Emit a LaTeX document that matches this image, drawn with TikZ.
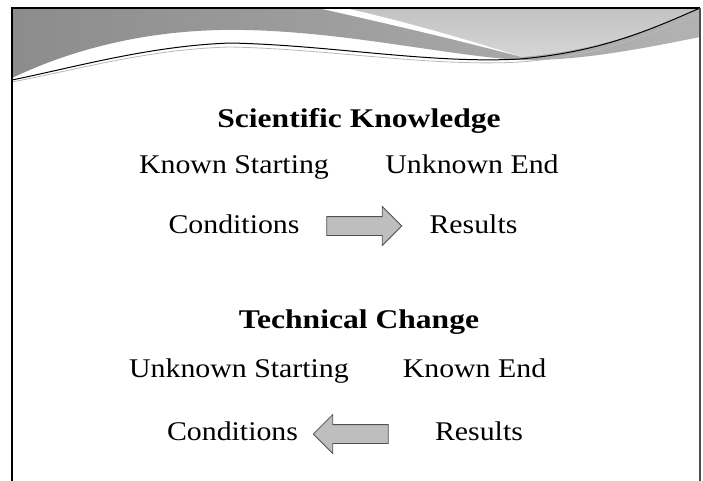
\documentclass[tikz,border=0pt]{standalone}
\usepackage{fontspec}
\setmainfont{Liberation Serif}
\newfontfamily\headfont[FakeStretch=1.17]{Liberation Serif}
\newfontfamily\phrasefont[FakeStretch=1.105]{Liberation Serif}
\usetikzlibrary{shapes.arrows}

\definecolor{swooshdark}{RGB}{140,140,140}
\definecolor{swooshmid}{RGB}{178,178,178}
\definecolor{swooshtop}{RGB}{194,194,194}
\definecolor{swooshlight}{RGB}{214,214,214}
\definecolor{arrowfill}{RGB}{190,190,190}
\definecolor{arrowline}{RGB}{80,80,80}

\tikzset{
  heading/.style={anchor=base,font=\headfont\fontsize{27}{31}\selectfont\bfseries},
  phrase/.style={anchor=base,font=\phrasefont\fontsize{27}{31}\selectfont},
  blockarrow/.style={single arrow,draw=arrowline,fill=arrowfill,line width=0.8pt,
    inner sep=0pt,text height=18pt,text depth=0pt,text width=0pt,
    single arrow head extend=10pt,single arrow tip angle=90,minimum height=75pt}
}

\begin{document}
\begin{tikzpicture}[x=1pt,y=-1pt]
\useasboundingbox (0,0) rectangle (703,480);
\clip (0,0) rectangle (703,480);
\fill[white] (0,0) rectangle (703,480);

% wave along the top
\shade[left color=swooshdark,right color=swooshmid] (12,8) -- (700,8) -- (700,37)
  .. controls (640,49) and (580,61) .. (520,60)
  .. controls (440,55) and (330,28) .. (220,30)
  .. controls (130,32) and (60,55) .. (12,78) -- cycle;
\shade[top color=swooshtop,bottom color=swooshlight] (345,8)
  .. controls (390,18) and (450,34) .. (522,57)
  .. controls (600,50) and (650,30) .. (700,8) -- cycle;
\fill[white] (318,8) .. controls (380,22) and (450,38) .. (522,57)
  .. controls (450,34) and (390,18) .. (345,8) -- cycle;
\draw[gray!55,line width=0.8pt] (12,82) .. controls (80,69) and (150,49) .. (230,47)
  .. controls (330,49) and (430,67) .. (520,62) .. controls (600,56) and (650,34) .. (700,14);
\draw[black,line width=1pt] (12,80) .. controls (80,66) and (150,46) .. (230,43)
  .. controls (330,45) and (430,64) .. (520,59) .. controls (600,52) and (650,30) .. (700,8);

% slide frame
\draw[line width=1.6pt] (12,490) -- (12,8) -- (700,8);
\draw[line width=1.2pt,black!70] (700,8) -- (700,490);

% first block
\node[heading] (sk) at (359,127) {Scientific Knowledge};
\node[phrase] (sk start) at (234,173) {Known Starting};
\node[phrase] (sk end) at (472,173) {Unknown End};
\node[phrase] (sk cond) at (234,233) {Conditions};
\node[phrase] (sk res) at (473.5,233) {Results};
\node[blockarrow] (sk arrow) at (359.5,226) {};

% second block
\node[heading] (tc) at (359,328) {Technical Change};
\node[phrase] (tc start) at (239,377) {Unknown Starting};
\node[phrase] (tc end) at (474.5,377) {Known End};
\node[phrase] (tc cond) at (232.5,440) {Conditions};
\node[phrase] (tc res) at (479,440) {Results};
\node[blockarrow,shape border rotate=180] (tc arrow) at (355.5,434) {};
\end{tikzpicture}
\end{document}
